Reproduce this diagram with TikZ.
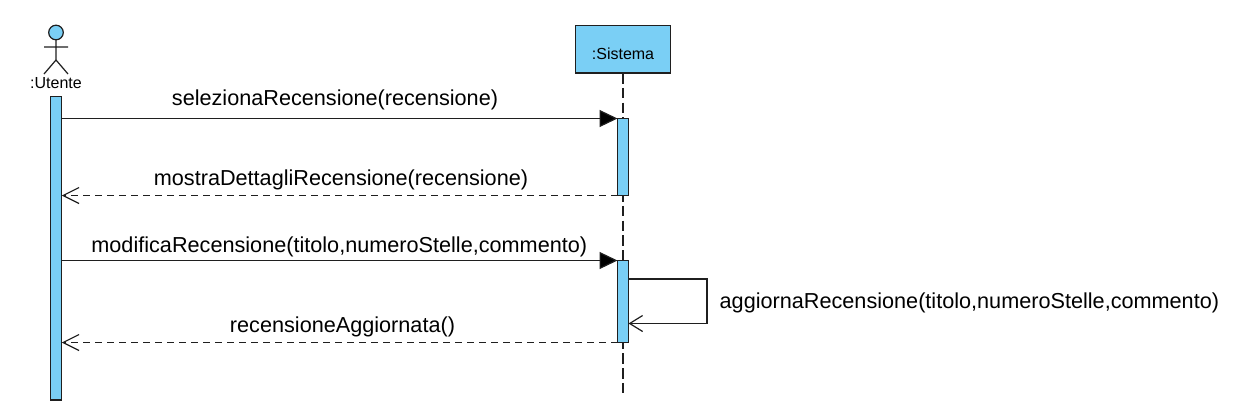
\documentclass[tikz,border=0pt]{standalone}
\usepackage{fontspec}
\setmainfont{Liberation Sans}
\usetikzlibrary{arrows.meta}
\definecolor{umlfill}{HTML}{7ACFF5}
\definecolor{umlline}{HTML}{1F1F1F}
\tikzset{
  x=1pt,y=-1pt,
  line/.style={draw=umlline,line width=1.2pt},
  activation/.style={line,fill=umlfill,minimum width=11pt,inner sep=0pt,outer sep=0pt,anchor=north},
  lifebox/.style={line,fill=umlfill,minimum width=95pt,minimum height=47.5pt,inner sep=0pt,outer sep=0pt},
  msgtext/.style={font=\fontsize{21.65}{24}\selectfont,inner sep=0pt,outer sep=0pt,text=black,anchor=base},
  nametext/.style={font=\fontsize{16}{18}\selectfont,inner sep=0pt,outer sep=0pt,text=black,anchor=base},
  call/.style={line,-{Triangle[length=18pt,width=17pt,fill=black]}},
  reply/.style={line,dash pattern=on 7pt off 5pt,-{Straight Barb[length=16pt,width=16pt,line width=1.2pt]}},
  lifeline/.style={line,dash pattern=on 10.5pt off 4.25pt},
  selfcall/.style={line,-{Straight Barb[length=13pt,width=16pt,line width=1.2pt]}},
}
\begin{document}
\begin{tikzpicture}
\useasboundingbox (0,0) rectangle (1235,416);
% Sistema head and lifeline
\node[lifebox] (sis) at (623,49.25) {};
\node[nametext] (sislabel) at (623,59) {:Sistema};
\coordinate (sisend) at (623,395);
\draw[lifeline] (sis.south) -- (sisend);
% Actor
\node[line,circle,fill=umlfill,minimum size=14.6pt,inner sep=0pt,outer sep=0pt] (head) at (56,32.5) {};
\coordinate (hip) at (56,60);
\coordinate (armL) at (44,47);
\coordinate (armR) at (68,47);
\coordinate (legL) at (44,74);
\coordinate (legR) at (68,74);
\draw[line] (head.south) -- (hip) (armL) -- (armR) (legL) -- (hip) -- (legR);
\node[nametext] (ute) at (56,88.5) {:Utente};
% Activations
\node[activation,minimum height=303.5pt] (au) at (56.25,96.5) {};
\node[activation,minimum height=77pt] (a1) at (623,118.5) {};
\node[activation,minimum height=82pt] (a2) at (623,260.5) {};
% Messages
\draw[call] (au.east |- a1.north west) -- (a1.north west);
\draw[reply] (a1.south west) -- (a1.south west -| au.east);
\draw[call] (au.east |- a2.north west) -- (a2.north west);
\draw[reply] (a2.south west) -- (a2.south west -| au.east);
\coordinate (selfA) at (a2.east |- 0,279);
\coordinate (selfB) at (707,279);
\coordinate (selfC) at (707,323.5);
\coordinate (selfD) at (a2.east |- 0,323.5);
\draw[selfcall] (selfA) -- (selfB) -- (selfC) -- (selfD);
% Labels
\node[msgtext] (m1) at (335,105) {selezionaRecensione(recensione)};
\node[msgtext] (m2) at (341,185) {mostraDettagliRecensione(recensione)};
\node[msgtext] (m3) at (339.3,252) {modificaRecensione(titolo,numeroStelle,commento)};
\node[msgtext] (m4) at (342.5,332) {recensioneAggiornata()};
\node[msgtext,anchor=base west] (m5) at (719.7,308.3) {aggiornaRecensione(titolo,numeroStelle,commento)};
\end{tikzpicture}
\end{document}
